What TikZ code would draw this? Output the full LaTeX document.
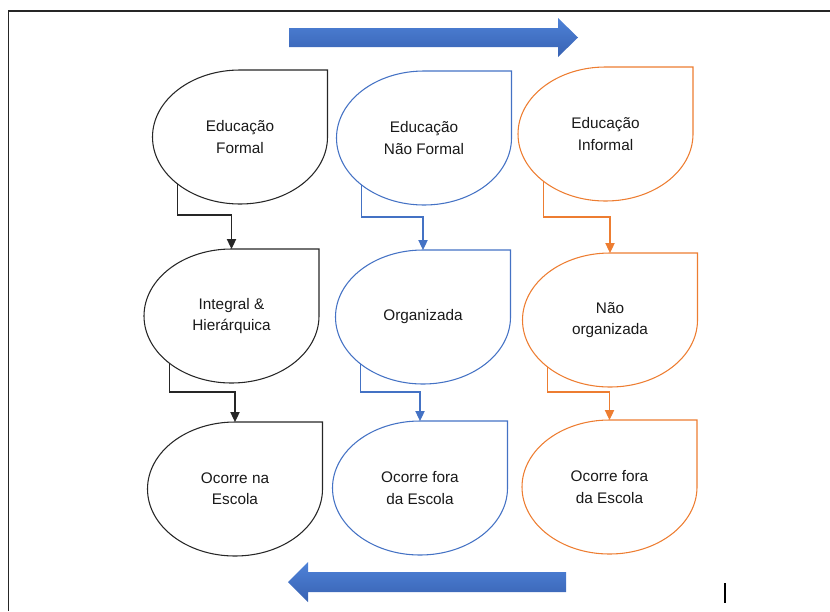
\documentclass[tikz,border=0pt]{standalone}
\usepackage{fontspec}
\setmainfont{Liberation Sans}
\usetikzlibrary{arrows.meta,shapes.geometric}

\definecolor{azulgota}{RGB}{68,114,196}
\definecolor{laranjagota}{RGB}{237,125,49}
\definecolor{azulclaro}{RGB}{78,130,216}
\definecolor{azulescuro}{RGB}{56,98,178}

\tikzset{
  rotulo/.style={shape=ellipse, minimum width=131.25pt, minimum height=100.5pt, inner sep=0pt, outer sep=0pt, align=center, font=\fontsize{11.5}{16}\selectfont, text=black!90},
  contorno/.style={line width=0.8pt},
  seta/.style={line width=0.8pt, -{Triangle[length=7.5pt,width=7pt]}},
  bloco/.style={top color=azulclaro, bottom color=azulescuro, draw=none}
}

\begin{document}
\begin{tikzpicture}[x=0.75pt,y=0.75pt,yscale=-1,xscale=1]
        \useasboundingbox (0,0) rectangle (830,611);

        %Straight Lines: moldura
        \draw [line width=1.1pt, black!85]  (8.5,611) -- (8.5,11) -- (830,11) ;

        %Shape: Right Arrow
        \draw  [bloco] (289,28) -- (558,28) -- (558,18) -- (578,37.5) -- (558,57) -- (558,47) -- (289,47) -- cycle ;
        %Shape: Left Arrow
        \draw  [bloco] (566,572) -- (308,572) -- (308,562) -- (288,582) -- (308,602) -- (308,592) -- (566,592) -- cycle ;

        % Text Nodes
        \node [rotulo] (ef) at (240,137) {Educação\\Formal};
        \node [rotulo] (enf) at (424,138) {Educação\\Não Formal};
        \node [rotulo] (ei) at (605.5,134) {Educação\\Informal};
        \node [rotulo] (ih) at (231.5,316) {Integral \&\\Hierárquica};
        \node [rotulo] (org) at (423,317) {Organizada};
        \node [rotulo] (norg) at (610,320) {Não\\organizada};
        \node [rotulo] (esc) at (235,489) {Ocorre na\\Escola};
        \node [rotulo] (fora) at (420,488) {Ocorre fora\\da Escola};
        \node [rotulo] (forai) at (609.5,487) {Ocorre fora\\da Escola};

        %Shape: Teardrop (formal)
        \draw  [contorno, black!85] (ef.north) -| (ef.east) arc[start angle=0, end angle=270, x radius=65.625pt, y radius=50.25pt] -- cycle ;
        \draw  [contorno, black!85] (ih.north) -| (ih.east) arc[start angle=0, end angle=270, x radius=65.625pt, y radius=50.25pt] -- cycle ;
        \draw  [contorno, black!85] (esc.north) -| (esc.east) arc[start angle=0, end angle=270, x radius=65.625pt, y radius=50.25pt] -- cycle ;
        %Shape: Teardrop (nao formal)
        \draw  [contorno, azulgota] (enf.north) -| (enf.east) arc[start angle=0, end angle=270, x radius=65.625pt, y radius=50.25pt] -- cycle ;
        \draw  [contorno, azulgota] (org.north) -| (org.east) arc[start angle=0, end angle=270, x radius=65.625pt, y radius=50.25pt] -- cycle ;
        \draw  [contorno, azulgota] (fora.north) -| (fora.east) arc[start angle=0, end angle=270, x radius=65.625pt, y radius=50.25pt] -- cycle ;
        %Shape: Teardrop (informal)
        \draw  [contorno, laranjagota] (ei.north) -| (ei.east) arc[start angle=0, end angle=270, x radius=65.625pt, y radius=50.25pt] -- cycle ;
        \draw  [contorno, laranjagota] (norg.north) -| (norg.east) arc[start angle=0, end angle=270, x radius=65.625pt, y radius=50.25pt] -- cycle ;
        \draw  [contorno, laranjagota] (forai.north) -| (forai.east) arc[start angle=0, end angle=270, x radius=65.625pt, y radius=50.25pt] -- cycle ;

        %Elbow Connectors
        \draw [seta, black!85] (ef.217) -- ++(0,31) -| (ih.north) ;
        \draw [seta, black!85] (ih.217) -- ++(0,29) -| (esc.north) ;
        \draw [seta, azulgota] (enf.217) -- ++(0,32) -| (org.north) ;
        \draw [seta, azulgota] (org.217) -- ++(0,28) -| (fora.north) ;
        \draw [seta, laranjagota] (ei.217) -- ++(0,36) -| (norg.north) ;
        \draw [seta, laranjagota] (norg.217) -- ++(0,25) -| (forai.north) ;

        %Straight Lines: cursor
        \draw [line width=1.1pt]  (725,583) -- (725,603) ;

\end{tikzpicture}
\end{document}
